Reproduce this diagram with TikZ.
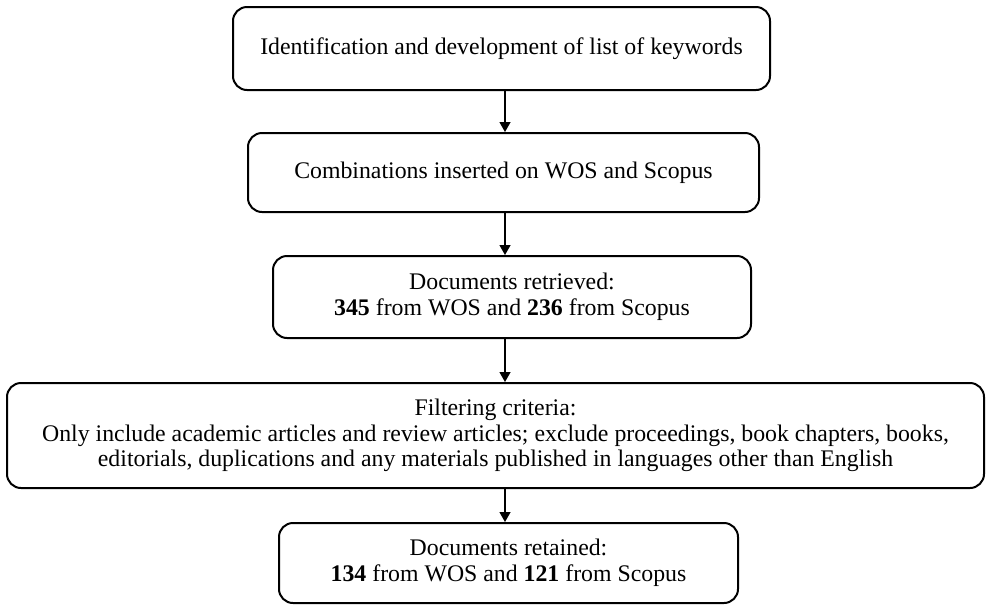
\documentclass[tikz,border=0pt]{standalone}
\usepackage{fontspec}
\setmainfont{Liberation Serif}
\usetikzlibrary{arrows.meta}
\begin{document}
\begin{tikzpicture}[x=1pt,y=-1pt,
  stage/.style={draw, line width=2pt, rounded corners=14pt, align=center,
    font=\fontsize{23.8}{25.5}\selectfont, inner sep=0pt},
  flow/.style={-{Triangle[width=11pt,length=10pt]}, line width=1.3pt}]
\useasboundingbox (0,0) rectangle (986,606);
% vertical line shared by all connectors
\coordinate (axis) at (505,0);

\node[stage, minimum width=537pt, minimum height=83pt] (keys) at (501.5,48.5)
  {Identification and development of list of keywords};
\node[stage, minimum width=511pt, minimum height=79pt] (query) at (503.5,172.5)
  {Combinations inserted on WOS and Scopus};
\node[stage, minimum width=478pt, minimum height=82pt] (found) at (512,297)
  {Documents retrieved:\\\textbf{345} from WOS and \textbf{236} from Scopus};
\node[stage, minimum width=977pt, minimum height=105pt] (filter) at (495.5,435.5)
  {Filtering criteria:\\Only include academic articles and review articles; exclude proceedings, book chapters, books,\\editorials, duplications and any materials published in languages other than English};
\node[stage, minimum width=459pt, minimum height=80pt] (kept) at (508.5,563)
  {Documents retained:\\\textbf{134} from WOS and \textbf{121} from Scopus};

\draw[flow] (keys.south -| axis) -- (query.north -| axis);
\draw[flow] (query.south -| axis) -- (found.north -| axis);
\draw[flow] (found.south -| axis) -- (filter.north -| axis);
\draw[flow] (filter.south -| axis) -- (kept.north -| axis);
\end{tikzpicture}
\end{document}
